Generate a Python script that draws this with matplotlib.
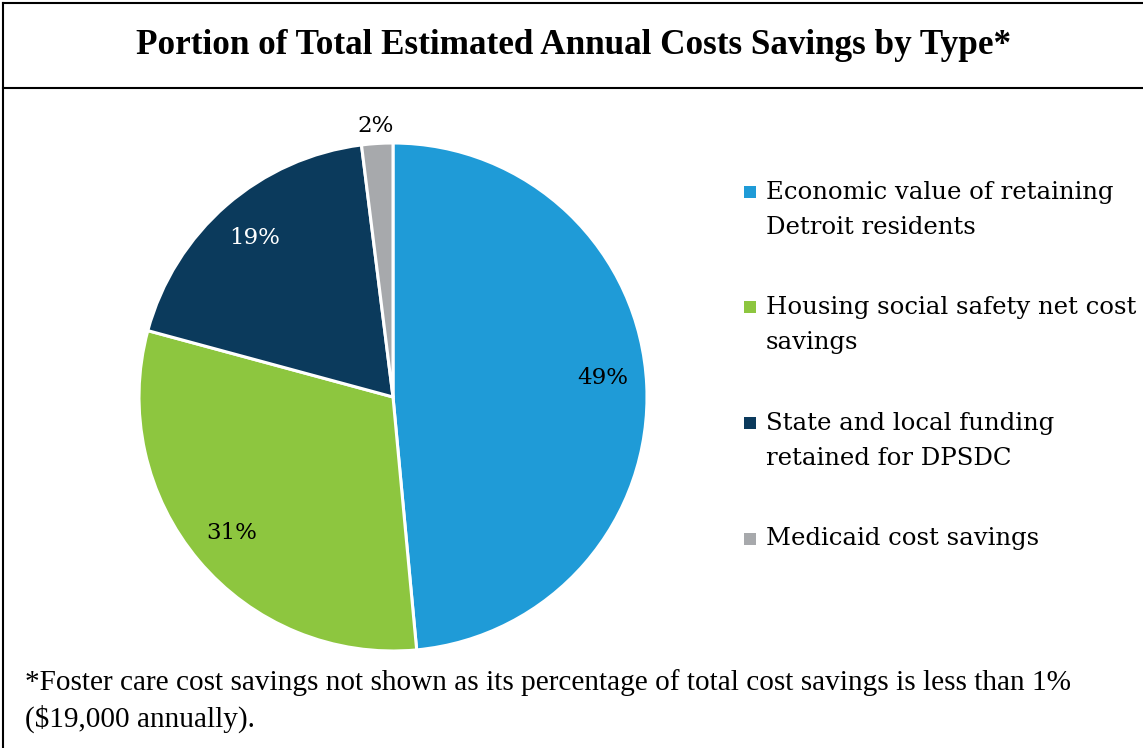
import matplotlib
matplotlib.use("Agg")
import matplotlib.pyplot as plt
from matplotlib.lines import Line2D
from matplotlib.patches import Rectangle
import numpy as np

# Share of total estimated annual cost savings (percent)
categories = [
    "Economic value of retaining\nDetroit residents",
    "Housing social safety net cost\nsavings",
    "State and local funding\nretained for DPSDC",
    "Medicaid cost savings",
]
shares = [49, 31, 19, 2]
colors = ["#1f9bd7", "#8dc63f", "#0b3a5c", "#a7a9ac"]
label_colors = ["black", "black", "white", "black"]
label_dist = [0.83, 0.83, 0.83, 1.07]
label_turn = [2.5, 0, 0, 0]  # degrees, nudges label along the arc

W, H = 1143, 748
fig = plt.figure(figsize=(W / 100, H / 100), dpi=100)

serif = ["DejaVu Serif"]
cond = ["Liberation Serif"]

# Pie axes: centre (393, 397) px, radius 254 px
cx, cy, r = 393, 397, 254
ax = fig.add_axes([(cx - r) / W, (H - cy - r) / H, 2 * r / W, 2 * r / H])
wedges, _ = ax.pie(shares, colors=colors, startangle=90, counterclock=False,
                   wedgeprops=dict(edgecolor="white", linewidth=2.2))
ax.set_xlim(-1, 1)
ax.set_ylim(-1, 1)
ax.set_aspect("equal")
ax.axis("off")

for w, v, c, d, t in zip(wedges, shares, label_colors, label_dist, label_turn):
    ang = np.deg2rad((w.theta1 + w.theta2) / 2 + t)
    ax.text(d * np.cos(ang), d * np.sin(ang), f"{v}%", ha="center", va="center",
            fontsize=16.5, color=c, family=serif)

# Legend drawn as coloured squares and text
legend_y = [192, 307, 423, 539]
for y, lab, c in zip(legend_y, categories, colors):
    fig.add_artist(Rectangle((744 / W, (H - y - 6) / H), 12 / W, 12 / H,
                             facecolor=c, edgecolor="none", transform=fig.transFigure))
    nlines = lab.count("\n") + 1
    yc = y + (nlines - 1) * 36 / 2
    fig.text(766 / W, (H - yc) / H, lab, ha="left", va="center", fontsize=17.6,
             family=serif, linespacing=1.63, transform=fig.transFigure)

# Title
fig.text(574 / W, (H - 45) / H, "Portion of Total Estimated Annual Costs Savings by Type*",
         ha="center", va="center", fontsize=25.3, family=cond, fontweight="bold")

# Footnote
fig.text(25 / W, (H - 701) / H,
         "*Foster care cost savings not shown as its percentage of total cost savings is less than 1%\n($19,000 annually).",
         ha="left", va="center", fontsize=21.1, family=cond, linespacing=1.38)

# Frame lines
lw = 1.5
fig.add_artist(Line2D([3 / W, 3 / W], [0, 1 - 3 / H], color="black", lw=lw))
fig.add_artist(Line2D([3 / W, 1], [1 - 3 / H, 1 - 3 / H], color="black", lw=lw))
fig.add_artist(Line2D([3 / W, 1], [1 - 88 / H, 1 - 88 / H], color="black", lw=lw))

fig.savefig("out.png", dpi=100, facecolor="white")
